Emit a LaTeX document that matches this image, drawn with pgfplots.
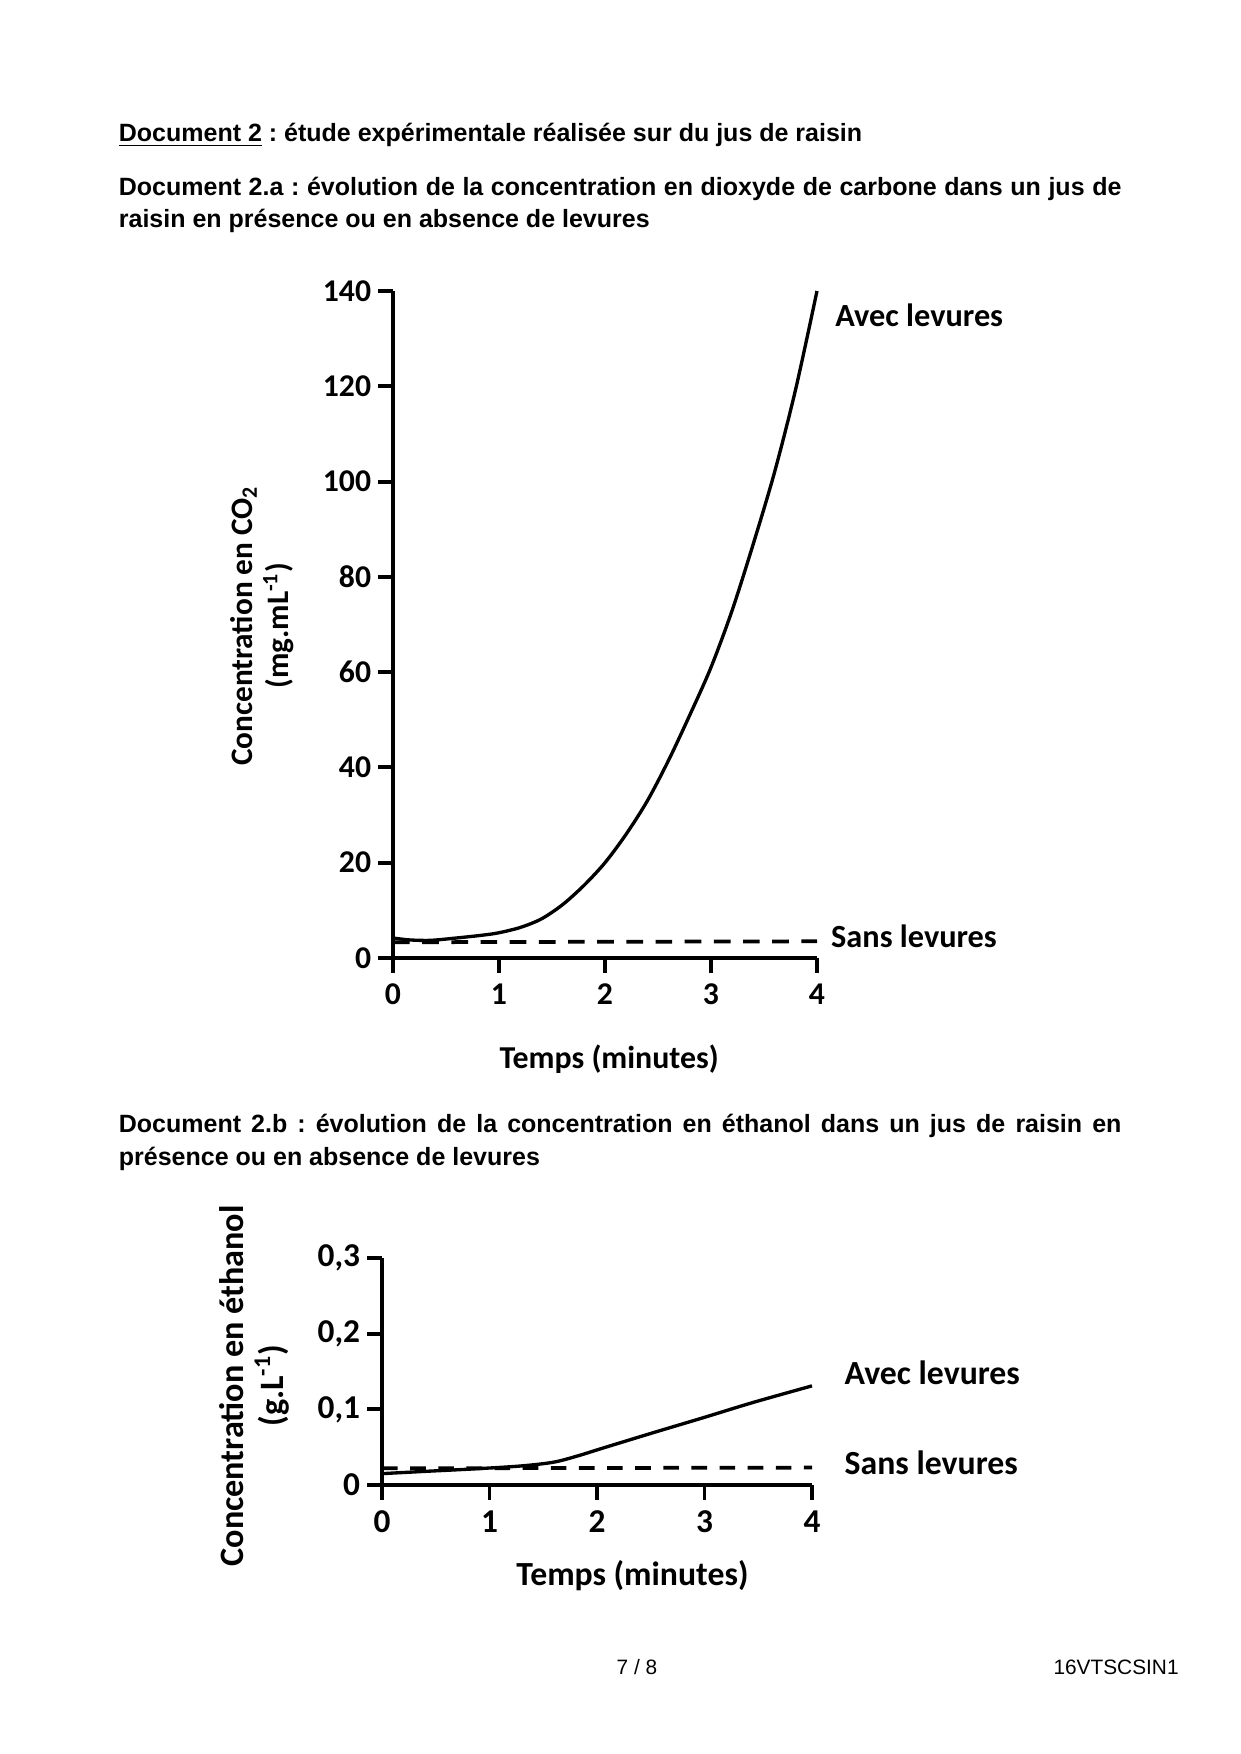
\documentclass[border=0pt]{standalone}
\usepackage{fontspec}
\setmainfont{Liberation Sans}
\newfontfamily\calib{Carlito}
\usepackage{pgfplots}
\pgfplotsset{compat=1.18}
\frenchspacing
\pgfplotsset{
  docaxis/.style={
    scale only axis,
    anchor=south west,
    axis x line*=bottom, axis y line*=left,
    axis line style={line width=1.9pt,-},
    every outer x axis line/.append style={-},
    every outer y axis line/.append style={-},
    tick style={line width=1.9pt,black},
    tick align=outside,
    major tick length=7pt,
    xmin=0,xmax=4,
    xtick={0,1,2,3,4},
    clip=false,
    /pgf/number format/assume math mode=true,
    xticklabel style={yshift=-2pt},
  }
}
\begin{document}
\frenchspacing
\begin{tikzpicture}
\useasboundingbox (0,0) rectangle (595.2pt,841.92pt);
\fill[white] (0,0) rectangle (595.2pt,841.92pt);

% Headings
\node[anchor=base west,inner sep=0] at (56.88pt,773.76pt) {\fontsize{12}{14}\selectfont\bfseries\frenchspacing \underline{Document 2} : étude expérimentale réalisée sur du jus de raisin};
\node[anchor=base west,inner sep=0] at (56.88pt,747.84pt) {\fontsize{12}{14}\selectfont\bfseries\frenchspacing \makebox[481.2pt][s]{Document 2.a : évolution de la concentration en dioxyde de carbone dans un jus de}};
\node[anchor=base west,inner sep=0] at (56.88pt,732.48pt) {\fontsize{12}{14}\selectfont\bfseries raisin en présence ou en absence de levures};
\node[anchor=base west,inner sep=0] at (56.88pt,298.08pt) {\fontsize{12}{14}\selectfont\bfseries\frenchspacing \makebox[481.2pt][s]{Document 2.b : évolution de la concentration en éthanol dans un jus de raisin en}};
\node[anchor=base west,inner sep=0] at (56.88pt,282.24pt) {\fontsize{12}{14}\selectfont\bfseries présence ou en absence de levures};

% Footer
\node[anchor=base,inner sep=0] at (305.76pt,37.92pt) {\fontsize{10}{12}\selectfont 7 / 8};
\node[anchor=base east,inner sep=0] at (565.92pt,37.92pt) {\fontsize{10}{12}\selectfont 16VTSCSIN1};

% Chart 1: CO2
\begin{axis}[docaxis,
  at={(188.64pt,382.08pt)},
  width=203.52pt, height=320.16pt,
  ymin=0, ymax=140,
  ytick={0,20,40,60,80,100,120,140},
  tick label style={font=\calib\bfseries\fontsize{15.2}{18}\selectfont},
]
\addplot[black,line width=1.6pt,smooth] coordinates {
(0,4.2) (0.15,3.8) (0.35,3.7) (0.6,4.2) (0.85,4.8) (1.0,5.3) (1.2,6.4)
(1.4,8.2) (1.6,11.2) (1.8,15.2) (2.0,20) (2.2,26) (2.4,33) (2.6,41.5)
(2.8,51) (3.0,61) (3.2,73) (3.4,87) (3.6,102) (3.8,119.5) (4.0,140)};
\addplot[black,line width=1.8pt,dash pattern=on 8pt off 6pt] coordinates {(0,3.3) (4,3.5)};
\node[anchor=west,inner sep=0,font=\calib\bfseries\fontsize{15.5}{18}\selectfont] at (axis cs:4.17,135) {Avec levures};
\node[anchor=west,inner sep=0,font=\calib\bfseries\fontsize{15.5}{18}\selectfont] at (axis cs:4.13,4.6) {Sans levures};
\node[font=\calib\bfseries\fontsize{15.3}{18}\selectfont] at (axis cs:2.04,-21.2) {Temps (minutes)};
\node[rotate=90,align=center,font=\calib\bfseries\fontsize{15}{17.3}\selectfont] at (axis cs:-1.236,69.7) {Concentration en CO\textsubscript{2}\\(mg.mL\textsuperscript{-1})};
\end{axis}

% Chart 2: ethanol
\begin{axis}[docaxis,
  at={(183.36pt,129.12pt)},
  width=206.4pt, height=108.96pt,
  ymin=0, ymax=0.3,
  ytick={0,0.1,0.2,0.3},
  yticklabels={0,{0,1},{0,2},{0,3}},
  tick label style={font=\calib\bfseries\fontsize{16}{19}\selectfont},
]
\addplot[black,line width=1.6pt,smooth] coordinates {
(0,0.015) (0.4,0.018) (0.82,0.021) (1.28,0.025) (1.59,0.030) (1.81,0.038)
(2.06,0.049) (2.52,0.069) (2.99,0.089) (3.45,0.109) (4.0,0.131)};
\addplot[black,line width=1.8pt,dash pattern=on 7.5pt off 6pt] coordinates {(0,0.022) (4,0.023)};
\node[anchor=west,inner sep=0,font=\calib\bfseries\fontsize{16.2}{19}\selectfont] at (axis cs:4.30,0.148) {Avec levures};
\node[anchor=west,inner sep=0,font=\calib\bfseries\fontsize{16.2}{19}\selectfont] at (axis cs:4.30,0.030) {Sans levures};
\node[font=\calib\bfseries\fontsize{16.2}{19}\selectfont] at (axis cs:2.33,-0.120) {Temps (minutes)};
\node[rotate=90,align=center,font=\calib\bfseries\fontsize{16.4}{19.2}\selectfont] at (axis cs:-1.19,0.131) {Concentration en éthanol\\(g.L\textsuperscript{-1})};
\end{axis}
\end{tikzpicture}
\end{document}
